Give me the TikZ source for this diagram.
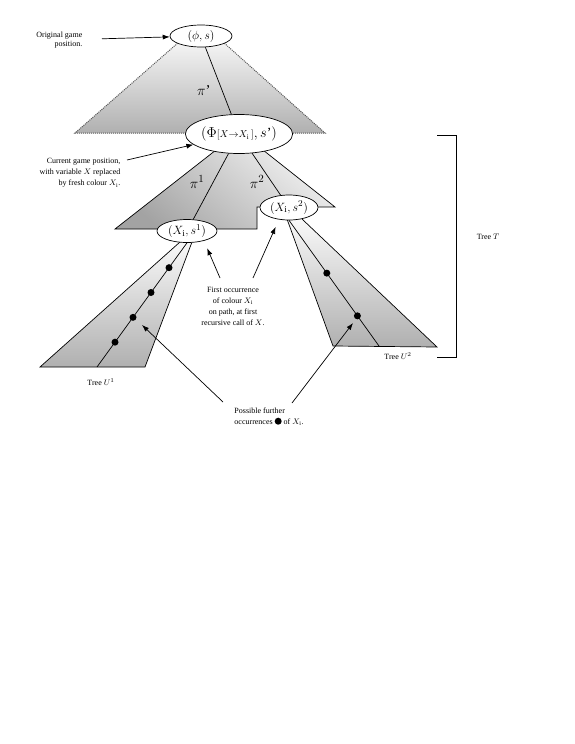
\documentclass[tikz,border=0pt]{standalone}
\usepackage{fontspec}
\setmainfont{Liberation Serif}
\usetikzlibrary{shapes.geometric,arrows.meta}
\begin{document}
\begin{tikzpicture}[x=1pt,y=-1pt,>={Latex[length=7pt,width=5pt]},line width=0.7pt,
    position/.style={draw,ellipse,fill=white,inner sep=0pt},
    note/.style={font=\fontsize{8}{11}\selectfont},
    occ/.style={circle,fill,inner sep=0pt,minimum size=7pt},
    big/.style={font=\fontsize{13}{15}\selectfont}]
                    \useasboundingbox (0,0) rectangle (575,744);

                    \shade[top color=gray!8,bottom color=gray!62] (179,42) -- (75,133) -- (325,133) -- (223,42) -- cycle;
                    \draw[densely dotted,line width=1pt,gray!70!black] (179,42) -- (75,133) -- (325,133) -- (223,42);

                    \shade[top color=gray!12,bottom color=gray!72,shading angle=-40] (216,150) -- (115,229) -- (257,229) -- (257,207) -- (335,207) -- (263,150) -- cycle;
                    \draw (216,150) -- (115,229) -- (257,229) -- (257,207) -- (335,207) -- (263,150);

                    \shade[top color=gray!5,bottom color=gray!62] (180,242) -- (40,367) -- (145,367) -- (192,242) -- cycle;
                    \draw (180,242) -- (40,367) -- (145,367) -- (192,242);

                    \shade[top color=gray!5,bottom color=gray!62] (287,219) -- (333,346) -- (437,347) -- (302,219) -- cycle;
                    \draw (287,219) -- (333,346) -- (437,347) -- (302,219);

                    \node[position,minimum width=62pt,minimum height=22pt,font=\fontsize{13}{15}\selectfont] (root) at (201,36) {$(\phi,s)$};
                    \node[position,minimum width=100pt,minimum height=39pt,font=\fontsize{14}{16}\selectfont] (cur) at (239,134) {$(\Phi${\fontsize{10}{12}\selectfont$[X{\to}X_{\mathrm{i}}\,]$}$,s$'$)$};
                    \node[position,minimum width=60pt,minimum height=23pt,big] (s1) at (187,231) {$(X_{\mathrm{i}},s^1)$};
                    \node[position,minimum width=58pt,minimum height=25pt,big] (s2) at (289,207.5) {$(X_{\mathrm{i}},s^2)$};

                    \draw (root) -- (cur) node[pos=0.65,left=8pt,font=\fontsize{15}{17}\selectfont] (pi0) {$\pi$'};
                    \draw (cur) -- (s1);
                    \draw (cur) -- (s2);
                    \node[font=\fontsize{15}{17}\selectfont] (pi1) at (197,182) {$\pi^1$};
                    \node[font=\fontsize{15}{17}\selectfont] (pi2) at (257,182) {$\pi^2$};

                    \coordinate (u1end) at (97,367);
                    \coordinate (u2end) at (379,346);
                    \draw (s1.south) -- (u1end) \foreach \p [count=\i] in {0.2,0.4,0.6,0.8} {node[occ,pos=\p] (u1d\i) {}};
                    \draw (s2.south) -- (u2end) \foreach \p [count=\i] in {0.42,0.76} {node[occ,pos=\p] (u2d\i) {}};

                    \node[note,align=right,anchor=east,font=\fontsize{8}{9.5}\selectfont] (orig) at (86,40) {Original game\\position.};
                    \draw[->,shorten <=16pt] (orig) -- (root);

                    \node[note,align=right,anchor=east] (curnote) at (124,173) {Current game position,\\with variable $X$ replaced\\by fresh colour $X_{\mathrm{i}}$.};
                    \coordinate (c1) at (127,160);
                    \draw[->] (c1) -- (cur);

                    \node[note,align=center] (first) at (233,306) {First occurrence\\of colour $X_{\mathrm{i}}$\\on path, at first\\recursive call of $X$.};
                    \coordinate (f1) at (220,278);
                    \coordinate (f2) at (253,278);
                    \draw[->,shorten >=8pt] (f1) -- (s1.-30);
                    \draw[->,shorten >=8pt] (f2) -- (s2.-130);

                    \node[note,align=left] (further) at (269,417) {Possible further\\occurrences \tikz\fill (0,0) circle (3.5pt); of $X_{\mathrm{i}}$.};
                    \coordinate (p1) at (223,402);
                    \coordinate (p2) at (292,403);
                    \coordinate (u1pt) at (142,325);
                    \coordinate (u2pt) at (353,323);
                    \draw[->] (p1) -- (u1pt);
                    \draw[->] (p2) -- (u2pt);

                    \node[note] (lu1) at (101,382) {Tree $U^1$};
                    \node[note] (lu2) at (398,356) {Tree $U^2$};

                    \draw[line width=1pt] (437,135) -- (456,135) -- (456,357) -- (437,357);
                    \node[note] (treeT) at (488,237) {Tree $T$};
                \end{tikzpicture}
\end{document}
